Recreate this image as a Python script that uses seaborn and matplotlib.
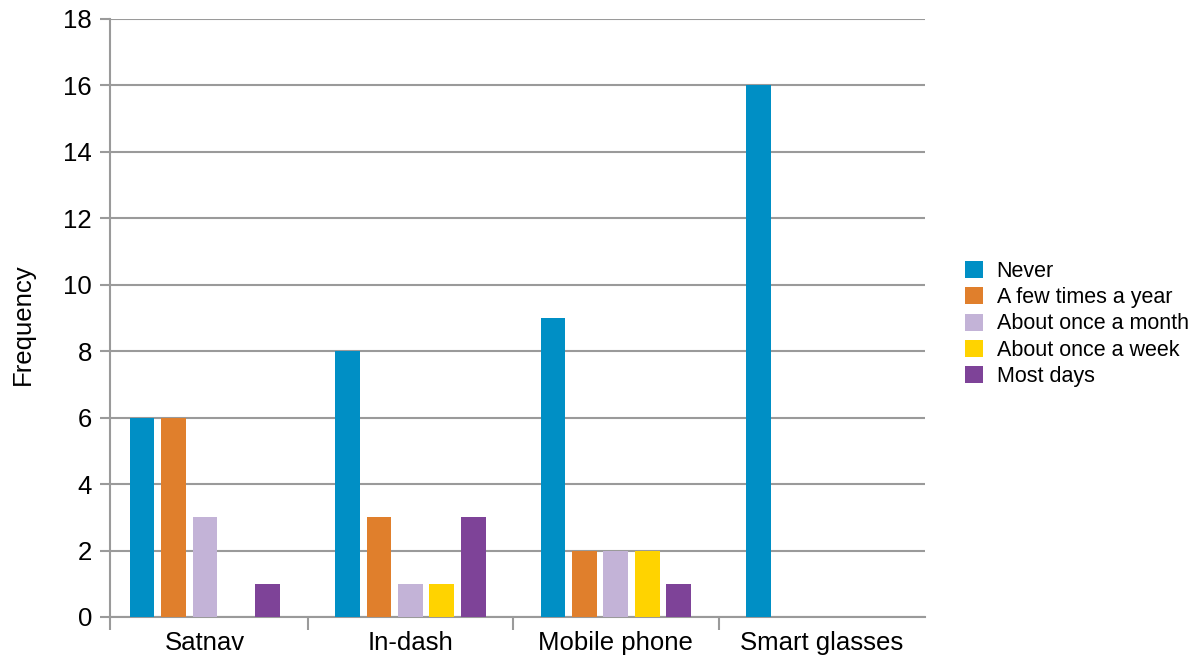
import matplotlib
matplotlib.use("Agg")
import matplotlib.pyplot as plt
import pandas as pd
import seaborn as sns

devices = ['Satnav', 'In-dash', 'Mobile phone', 'Smart glasses']
freq_levels = ['Never', 'A few times a year', 'About once a month',
               'About once a week', 'Most days']
never = [6, 8, 9, 16]
few_year = [6, 3, 2, 0]
once_month = [3, 1, 2, 0]
once_week = [0, 1, 2, 0]
most_days = [1, 3, 1, 0]
colors = ['#008FC5', '#E07F2C', '#C3B3D7', '#FFD300', '#7E4398']

sns.set_style('white')
plt.rcParams['font.family'] = ['Liberation Sans', 'DejaVu Sans']
plt.rcParams['text.color'] = 'black'
plt.rcParams['axes.labelcolor'] = 'black'
plt.rcParams['xtick.color'] = 'black'
plt.rcParams['ytick.color'] = 'black'

rows = []
for lvl, vals in zip(freq_levels, [never, few_year, once_month, once_week, most_days]):
    for dev, v in zip(devices, vals):
        rows.append({'device': dev, 'freq': lvl, 'count': v})
df = pd.DataFrame(rows)

fig = plt.figure(figsize=(12, 6.57), dpi=100)
ax = fig.add_axes([110 / 1200, 40 / 657, 815 / 1200, 598 / 657])

sns.barplot(data=df, x='device', y='count', hue='freq', order=devices,
            hue_order=freq_levels, palette=colors, saturation=1,
            width=0.766, gap=0.21, linewidth=0, ax=ax, zorder=3)

grid_c = '#9A9A9A'
x_left = -0.462
ax.set_ylim(0, 18)
ax.set_xlim(x_left, 3.504)
ax.set_yticks(range(0, 19, 2))
ax.yaxis.grid(True, color=grid_c, linewidth=1.5, zorder=0)
ax.set_axisbelow(True)
for s in ['top', 'right']:
    ax.spines[s].set_visible(False)
for s in ['left', 'bottom']:
    ax.spines[s].set_color(grid_c)
    ax.spines[s].set_linewidth(1.5)

ax.tick_params(axis='y', left=True, length=7, width=1.5, color=grid_c,
               labelcolor='black', labelsize=18.5, pad=6)
ax.tick_params(axis='x', which='major', length=0, labelcolor='black',
               labelsize=18.5, pad=10)
ax.set_xticks([x_left, 0.5, 1.5, 2.5], minor=True)
ax.tick_params(axis='x', which='minor', bottom=True, length=9, width=1.5,
               color=grid_c)

ax.set_xlabel('')
ax.set_ylabel('Frequency', fontsize=18.5)
ax.yaxis.set_label_coords(-0.092, 0.49)

ax.legend(loc='center left', bbox_to_anchor=(1.038, 0.49), frameon=False,
          borderaxespad=0, fontsize=15.5, handlelength=0.84, handleheight=0.84,
          handletextpad=0.65, labelspacing=0.24)

fig.savefig('out.png', dpi=100)
